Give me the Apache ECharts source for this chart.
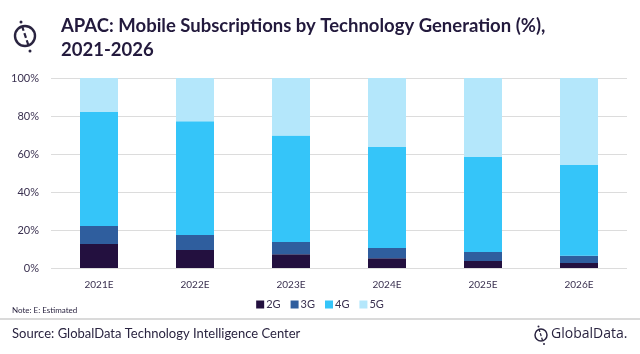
<!DOCTYPE html>
<html>
<head>
<meta charset="utf-8">
<script src="https://cdn.jsdelivr.net/npm/echarts@6/dist/echarts.min.js"></script>
<style>
  html, body { margin: 0; padding: 0; background: #fff; }
  #main { width: 640px; height: 354px; }
</style>
</head>
<body>
<div id="main"></div>
<script>
let categories = ['2021E', '2022E', '2023E', '2024E', '2025E', '2026E'];
let g2 = [12.6, 9.5, 7.2, 5.1, 3.7, 2.6];
let g3 = [9.5, 7.9, 6.5, 5.4, 4.7, 3.9];
let g4 = [60.0, 59.8, 56.1, 53.2, 50.0, 47.7];
let g5 = [17.9, 22.8, 30.2, 36.3, 41.6, 45.8];
let yTicks = [0, 20, 40, 60, 80, 100];

let colors = ['#23103f', '#2f5e9e', '#35c5f9', '#b4e7fb'];
let textColor = '#3a3150';

function makeSeries(name, data, i) {
    return {
        name: name,
        type: 'bar',
        stack: 'all',
        barWidth: 38,
        data: data,
        itemStyle: {color: colors[i]}
    };
}

let myChart = echarts.init(document.getElementById('main'));

let option = {
    animation: false,
    textStyle: {fontFamily: 'Lato'},
    grid: {left: 51, right: 13, top: 78, bottom: 86},
    legend: {
        data: ['2G', '3G', '4G', '5G'],
        top: 294,
        left: 'center',
        itemWidth: 8,
        itemHeight: 8,
        itemGap: 10,
        icon: 'rect',
        textStyle: {color: textColor, fontSize: 11, padding: [0, 0, 0, -3]}
    },
    xAxis: {
        type: 'category',
        data: categories,
        axisLine: {show: false},
        axisTick: {show: false},
        axisLabel: {color: textColor, fontSize: 10, margin: 12}
    },
    yAxis: {
        type: 'value',
        min: 0,
        max: 100,
        interval: 20,
        axisLabel: {color: textColor, fontSize: 11, formatter: '{value}%', margin: 12,
            customValues: yTicks},
        splitLine: {lineStyle: {color: '#dcdcdc'}}
    },
    series: [
        makeSeries('2G', g2, 0),
        makeSeries('3G', g3, 1),
        makeSeries('4G', g4, 2),
        makeSeries('5G', g5, 3)
    ],
    graphic: [
        // title
        {type: 'text', left: 61, top: 14, style: {
            text: 'APAC: Mobile Subscriptions by Technology Generation (%),\n2021-2026',
            fill: '#231a3d', font: 'bold 18.5px Lato', lineHeight: 24}},
        // top-left logo
        {type: 'circle', shape: {cx: 25, cy: 36, r: 10}, style: {fill: 'none', stroke: '#2a2440', lineWidth: 2.4}},
        {type: 'line', shape: {x1: 22, y1: 26, x2: 29, y2: 47}, style: {stroke: '#2a2440', lineWidth: 2.2, lineDash: [5, 2.5]}},
        {type: 'circle', shape: {cx: 21, cy: 22, r: 1.5}, style: {fill: '#2a2440'}},
        {type: 'circle', shape: {cx: 30, cy: 51, r: 1.5}, style: {fill: '#2a2440'}},
        // note
        {type: 'text', left: 12, top: 306, style: {text: 'Note: E: Estimated', fill: '#2a2440', font: '8px Lato'}},
        // separator
        {type: 'line', shape: {x1: 0, y1: 319, x2: 640, y2: 319}, style: {stroke: '#b5b5b5', lineWidth: 1}},
        // source
        {type: 'text', left: 12, top: 327, style: {text: 'Source: GlobalData Technology Intelligence Center', fill: '#2a2440', font: '13px Lato'}},
        // bottom-right logo
        {type: 'circle', shape: {cx: 541, cy: 335, r: 6}, style: {fill: 'none', stroke: '#2a2440', lineWidth: 1.5}},
        {type: 'line', shape: {x1: 539, y1: 329, x2: 543, y2: 342}, style: {stroke: '#2a2440', lineWidth: 1.3, lineDash: [3, 1.5]}},
        {type: 'circle', shape: {cx: 538.5, cy: 326.5, r: 1}, style: {fill: '#2a2440'}},
        {type: 'circle', shape: {cx: 544, cy: 344, r: 1}, style: {fill: '#2a2440'}},
        {type: 'text', left: 551, top: 327, style: {text: 'GlobalData.', fill: '#2a2440', font: '14px "Open Sans"'}}
    ]
};
myChart.setOption(option);
</script>
</body>
</html>
